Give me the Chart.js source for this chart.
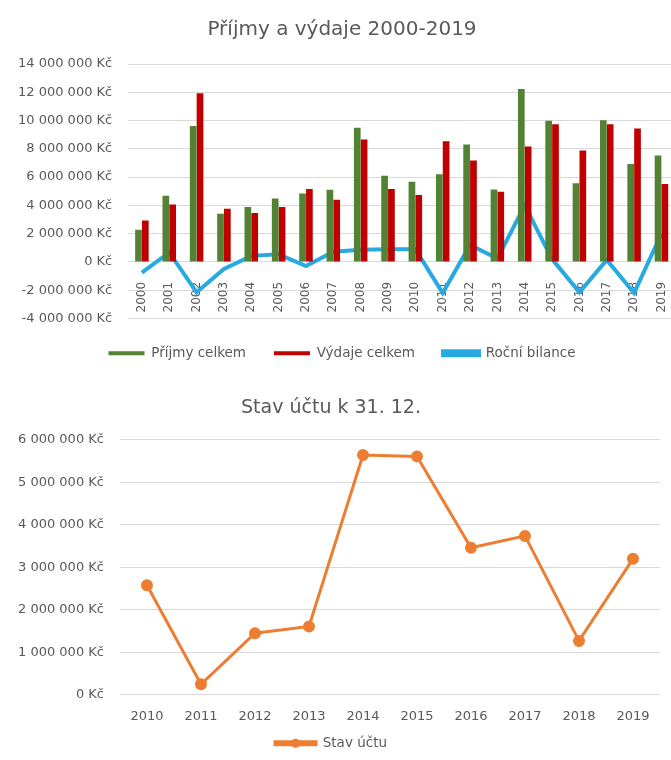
<!DOCTYPE html>
<html lang="cs">
<head>
<meta charset="utf-8">
<title>Příjmy a výdaje</title>
<script src="https://cdn.jsdelivr.net/npm/chart.js@4/dist/chart.umd.min.js"></script>
<style>
  html, body { margin: 0; padding: 0; background: #fff; overflow: hidden; }
  #top-wrap { position: relative; width: 688px; height: 370px; }
  #bottom-wrap { position: relative; width: 671px; height: 390px; }
</style>
</head>
<body>
<div id="top-wrap"><canvas id="budgetChart"></canvas></div>
<div id="bottom-wrap"><canvas id="balanceChart"></canvas></div>
<script>
// values (Kč)
const years = ['2000', '2001', '2002', '2003', '2004', '2005', '2006', '2007', '2008', '2009',
  '2010', '2011', '2012', '2013', '2014', '2015', '2016', '2017', '2018', '2019'];
const prijmy = [2270000, 4680000, 9620000, 3410000, 3890000, 4490000, 4840000, 5100000, 9500000, 6090000,
  5680000, 6200000, 8300000, 5130000, 12240000, 9980000, 5560000, 10020000, 6920000, 7520000];
const vydaje = [2940000, 4060000, 11930000, 3770000, 3460000, 3890000, 5160000, 4390000, 8660000, 5160000,
  4730000, 8540000, 7180000, 4960000, 8160000, 9740000, 7880000, 9740000, 9430000, 5510000];
const bilance = [-760000, 670000, -2150000, -500000, 430000, 550000, -290000, 720000, 860000, 900000,
  900000, -2200000, 1200000, 240000, 4000000, 200000, -2150000, 140000, -2200000, 2000000];

const stavYears = ['2010', '2011', '2012', '2013', '2014', '2015', '2016', '2017', '2018', '2019'];
const stavUctu = [2580000, 250000, 1450000, 1610000, 5640000, 5610000, 3460000, 3740000, 1270000, 3200000];

const FONT = '"DejaVu Sans"';
const TEXT = '#595959';
const GRID = '#d9d9d9';

function kc(v) {
  const s = String(Math.abs(v)).replace(/\B(?=(\d{3})+(?!\d))/g, ' ');
  return (v < 0 ? '-' : '') + s + ' Kč';
}

Chart.defaults.font.family = FONT;
Chart.defaults.color = TEXT;

// top: bars + yearly balance line
new Chart(document.getElementById('budgetChart'), {
  type: 'bar',
  data: {
    labels: years,
    datasets: [
      { label: 'Příjmy celkem', data: prijmy, backgroundColor: '#548235',
        categoryPercentage: 0.5, barPercentage: 0.98 },
      { label: 'Výdaje celkem', data: vydaje, backgroundColor: '#c00000',
        categoryPercentage: 0.5, barPercentage: 0.98 },
      { type: 'line', label: 'Roční bilance', data: bilance, borderColor: '#27a9e1',
        backgroundColor: '#27a9e1', borderWidth: 4, pointRadius: 0, tension: 0 }
    ]
  },
  options: {
    responsive: true,
    maintainAspectRatio: false,
    animation: false,
    layout: { padding: { left: 2, right: 6, top: 0, bottom: 0 } },
    plugins: {
      title: {
        display: true,
        text: 'Příjmy a výdaje 2000-2019',
        color: TEXT,
        font: { size: 20, weight: 'normal' },
        padding: { top: 18, bottom: 22 }
      },
      legend: {
        position: 'bottom',
        labels: { boxWidth: 36, boxHeight: 4, font: { size: 13.5 }, padding: 28 }
      },
      tooltip: { enabled: false }
    },
    scales: {
      x: {
        position: { y: 0 },
        grid: { display: false },
        border: { color: GRID },
        ticks: { minRotation: 90, maxRotation: 90, padding: 12, font: { size: 12 } }
      },
      y: {
        min: -4000000,
        max: 14000000,
        border: { display: false },
        grid: { color: GRID, drawTicks: false },
        ticks: { stepSize: 2000000, padding: 16, font: { size: 13 }, callback: v => kc(v) }
      }
    }
  }
});

// marker in the middle of the legend line
const legendDot = {
  id: 'legendDot',
  afterDraw(chart) {
    const boxes = chart.legend && chart.legend.legendHitBoxes;
    if (!boxes) return;
    const ctx = chart.ctx;
    boxes.forEach((b, i) => {
      const ds = chart.data.datasets[i];
      ctx.save();
      ctx.fillStyle = ds.borderColor;
      ctx.beginPath();
      ctx.arc(b.left + 20.5, b.top + b.height / 2, 4.5, 0, Math.PI * 2);
      ctx.fill();
      ctx.restore();
    });
  }
};

// bottom: account balance
new Chart(document.getElementById('balanceChart'), {
  type: 'line',
  data: {
    labels: stavYears,
    datasets: [
      { label: 'Stav účtu', data: stavUctu, borderColor: '#ed7d31', backgroundColor: '#ed7d31',
        borderWidth: 3, pointRadius: 4.5, pointBackgroundColor: '#ed7d31', tension: 0 }
    ]
  },
  options: {
    responsive: true,
    maintainAspectRatio: false,
    animation: false,
    layout: { padding: { left: 2, right: 11, top: 0, bottom: 0 } },
    plugins: {
      title: {
        display: true,
        text: 'Stav účtu k 31. 12.',
        color: TEXT,
        font: { size: 19, weight: 'normal' },
        padding: { top: 27, bottom: 20 }
      },
      legend: {
        position: 'bottom',
        labels: { boxWidth: 41, boxHeight: 3, font: { size: 13.5 }, padding: 6 }
      },
      tooltip: { enabled: false }
    },
    scales: {
      x: {
        offset: true,
        grid: { display: false },
        border: { display: false },
        ticks: { font: { size: 13 }, padding: 6 }
      },
      y: {
        min: 0,
        max: 6000000,
        border: { display: false },
        grid: { color: GRID, drawTicks: false },
        ticks: { stepSize: 1000000, padding: 16, font: { size: 13 }, callback: v => kc(v) }
      }
    }
  },
  plugins: [legendDot]
});
</script>
</body>
</html>
